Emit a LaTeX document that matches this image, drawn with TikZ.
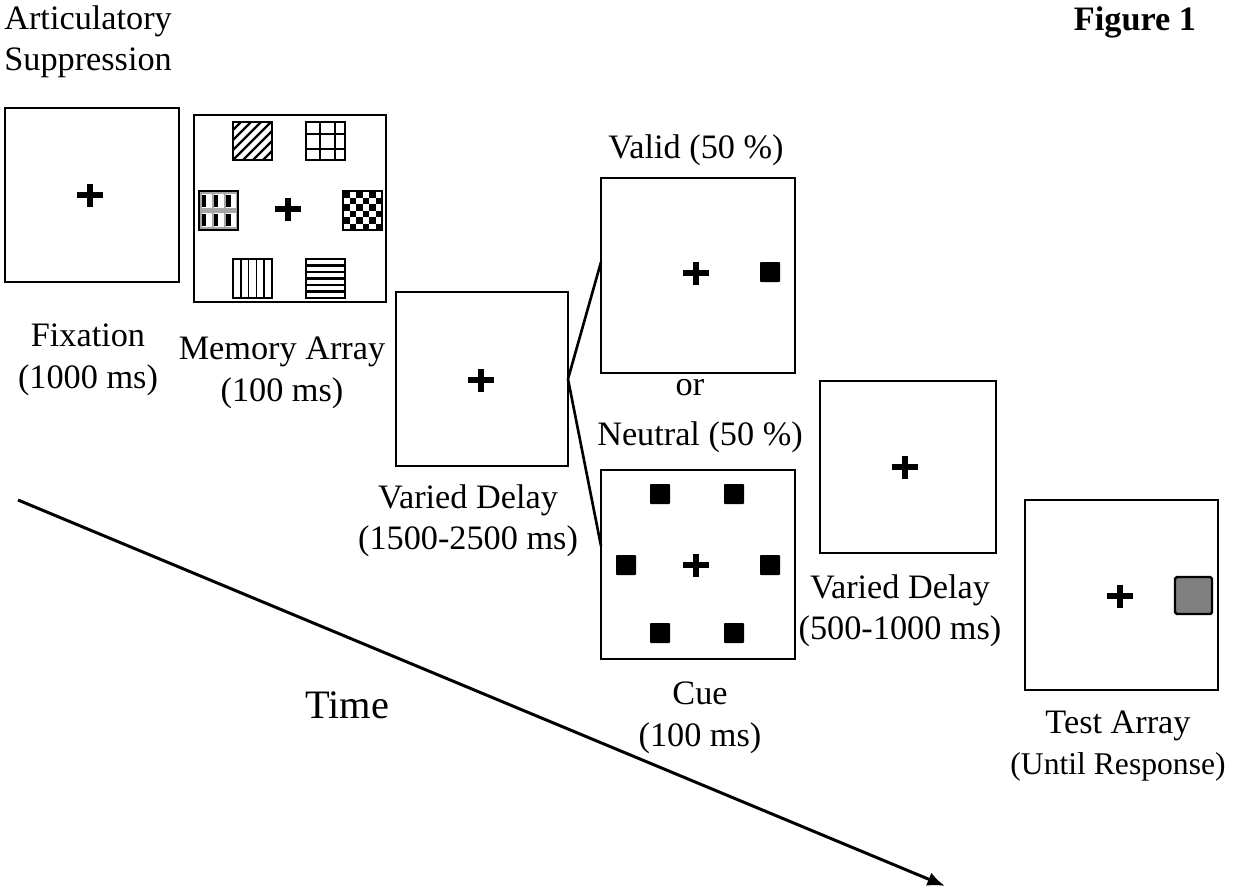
\documentclass[tikz,border=0pt]{standalone}
\usepackage{fontspec}
\setmainfont{Liberation Serif}
\usetikzlibrary{arrows.meta}
\begin{document}
\begin{tikzpicture}[x=0.02cm,y=-0.02cm,
  frame/.style={draw, line width=1.6pt, inner sep=0pt, outer sep=0pt, fill=white},
  lbl/.style={font=\fontsize{19.5}{23.6}\selectfont, align=center, inner sep=0pt},
  pat/.style={draw, line width=1.3pt},
  blk/.style={fill=black, rounded corners=0.5pt},
  plus/.pic={\draw[line width=2.9pt] (-13,0)--(13,0) (0,-11.5)--(0,11.5);}]
\useasboundingbox (0,0) rectangle (1233,892);
% time arrow
\coordinate (ta) at (18,500);
\coordinate (tb) at (945,886);
\draw[line width=1.7pt,-{Latex[length=10pt,width=8pt]}] (ta) -- (tb);
% frames
\node[frame, minimum width=3.48cm, minimum height=3.48cm] (fix) at (92,195) {};
\node[frame, minimum width=3.84cm, minimum height=3.74cm] (mem) at (290,208.5) {};
\node[frame, minimum width=3.44cm, minimum height=3.48cm] (del1) at (482,379) {};
\node[frame, minimum width=3.88cm, minimum height=3.90cm] (valid) at (698,275.5) {};
\node[frame, minimum width=3.88cm, minimum height=3.78cm] (neut) at (698,564.5) {};
\node[frame, minimum width=3.52cm, minimum height=3.44cm] (del2) at (908,467) {};
\node[frame, minimum width=3.86cm, minimum height=3.80cm] (test) at (1121.5,595) {};
% branch lines
\coordinate (vj) at (601,262);
\coordinate (nj) at (601,546);
\draw[line width=1.5pt] (vj) -- (del1.east) -- (nj);
% crosses
\pic at (90,195) {plus};
\pic at (288,209) {plus};
\pic at (481,380) {plus};
\pic at (696,273) {plus};
\pic at (696,565) {plus};
\pic at (905,467) {plus};
\pic at (1120,596) {plus};
% memory array patterns
% top-left: diagonal hatching
\begin{scope}
\clip (233,122) rectangle (272,160);
\foreach \d in {-30,-20,...,40} {\draw[line width=1.3pt] (233+\d,160) -- (273+\d,120);}
\end{scope}
\draw[pat] (233,122) rectangle (272,160);
% top-right: grid
\draw[line width=1.1pt] (320,122) -- (320,160) (335,122) -- (335,160)
  (306,134) -- (345,134) (306,149) -- (345,149);
\draw[pat] (306,122) rectangle (345,160);
% left middle: dotted check
\fill[gray!70] (199,191) rectangle (238,230);
\foreach \i in {0,1,2} {\foreach \j in {0,1} {
  \fill[white] (201.5+\i*12.3,194+\j*18.5) rectangle (211.5+\i*12.3,208+\j*18.5);
  \fill[black] (201.5+\i*12.3,195+\j*18.5) rectangle (206+\i*12.3,207+\j*18.5);}}
\draw[pat] (199,191) rectangle (238,230);
% right middle: checkerboard
\foreach \i in {0,...,5} {\foreach \j in {0,...,5} {
  \pgfmathtruncatemacro\odd{mod(\i+\j,2)}
  \ifnum\odd=0 \fill (343+\i*6.5,191+\j*6.5) rectangle (349.5+\i*6.5,197.5+\j*6.5);\fi}}
\draw[pat] (343,191) rectangle (382,230);
% bottom-left: vertical lines
\draw[line width=1pt] \foreach \k in {1,...,4} {(233+\k*7.8,259) -- (233+\k*7.8,298)};
\draw[pat] (233,259) rectangle (272,298);
% bottom-right: horizontal lines
\draw[line width=1.6pt] \foreach \k in {1,...,5} {(306,259+\k*6.5) -- (345,259+\k*6.5)};
\draw[pat] (306,259) rectangle (345,298);
% cue squares
\fill[blk] (760,262) rectangle (780,282);
\foreach \p in {(660,494),(734,494),(626,565),(770,565),(660,633),(734,633)}
  {\fill[blk] \p ++(-10,-10) rectangle ++(20,20);}
% test square
\filldraw[fill=gray, draw=black, line width=1.4pt, rounded corners=1pt] (1175,577) rectangle (1212,614);
% labels
\node[lbl, align=left, anchor=west] (as) at (4,42) {Articulatory\\Suppression};
\node[lbl, font=\fontsize{19.5}{23.6}\selectfont\bfseries] (fig) at (1135,22) {Figure 1};
\node[lbl] (lfix) at (88,360) {Fixation\\(1000 ms)};
\node[lbl] (lmem) at (282,373) {Memory Array\\(100 ms)};
\node[lbl] (lval) at (696,150) {Valid (50 \%)};
\node[lbl] (lor) at (690,388) {or};
\node[lbl] (lneu) at (700,437) {Neutral (50 \%)};
\node[lbl] (ldel1) at (468,521) {Varied Delay\\(1500-2500 ms)};
\node[lbl] (lcue) at (700,718) {Cue\\(100 ms)};
\node[lbl] (ldel2) at (900,611) {Varied Delay\\(500-1000 ms)};
\node[lbl] (ltest) at (1118,746) {Test Array\\{\fontsize{18}{23.6}\selectfont (Until Response)}};
\node[lbl, font=\fontsize{23}{27}\selectfont] (ltime) at (347,705) {Time};
\end{tikzpicture}
\end{document}
